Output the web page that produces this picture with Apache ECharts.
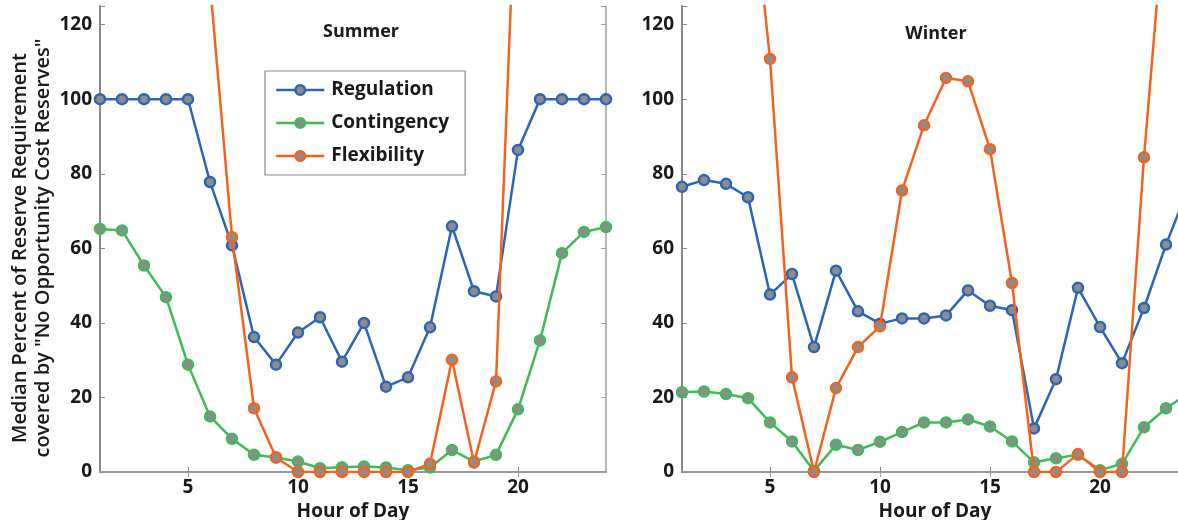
<!DOCTYPE html>
<html>
<head>
<meta charset="utf-8">
<script src="https://cdn.jsdelivr.net/npm/echarts@6/dist/echarts.min.js"></script>
<style>
html,body{margin:0;padding:0;overflow:hidden;background:#fff;width:1178px;height:520px;}
#chart{width:1200px;height:520px;}
</style>
</head>
<body>
<div id="chart"></div>
<script>
const hours = [1,2,3,4,5,6,7,8,9,10,11,12,13,14,15,16,17,18,19,20,21,22,23,24];
const xTicks = [5,10,15,20];
const yTicks = [0,20,40,60,80,100,120];
const seriesNames = ['Regulation','Contingency','Flexibility'];
const panelTitles = ['Summer','Winter'];

const summerRegulation  = [100,100,100,100,100,77.8,60.8,36.2,28.8,37.4,41.5,29.6,40,22.9,25.4,38.8,65.9,48.5,47.1,86.4,100,100,100,100];
const summerContingency = [65.2,64.8,55.4,46.9,28.8,14.9,8.9,4.6,3.9,2.8,1.0,1.3,1.5,1.2,0.5,1.2,5.9,2.8,4.6,16.8,35.3,58.7,64.4,65.7];
const summerFlexibility = [300,250,200,170,150,131,63,17.1,3.9,0,0,0,0,0,0,2.2,30.1,2.5,24.3,175,250,300,300,300];

const winterRegulation  = [76.5,78.3,77.3,73.7,47.6,53.1,33.5,54,43.1,39.8,41.2,41.2,42,48.7,44.6,43.4,11.7,24.9,49.4,38.9,29.2,44,61,76];
const winterContingency = [21.4,21.6,20.9,19.8,13.3,8.2,0.3,7.3,5.9,8.1,10.7,13.3,13.3,14.1,12.2,8.2,2.6,3.7,4.6,0.5,2.2,12,17.1,21];
const winterFlexibility = [250,220,200,167,110.8,25.4,0,22.5,33.5,39.1,75.5,93,105.7,104.8,86.6,50.7,0,0,4.8,0,0,84.4,155,220];

const colors = ['#2a65b8','#3fba57','#f4621f'];
const markerFill = '#8c8c8c';
const FONT = 'Open Sans';
const TEXT = '#1a1a1a';

const panels = [
  {title: panelTitles[0], data: [summerRegulation, summerContingency, summerFlexibility]},
  {title: panelTitles[1], data: [winterRegulation, winterContingency, winterFlexibility]}
];

const gridLefts = [100, 682];
const grids = gridLefts.map(l => ({left: l, top: 6, width: 506, height: 466, containLabel: false, outerBoundsMode: 'none'}));

const xAxes = [], yAxes = [], series = [];
panels.forEach((p, i) => {
  xAxes.push({
    type: 'value', gridIndex: i, min: 1, max: 24, position: 'bottom',
    name: 'Hour of Day', nameLocation: 'middle', nameGap: 28,
    nameTextStyle: {fontFamily: FONT, fontSize: 19, fontWeight: 'bold', color: TEXT},
    axisLine: {lineStyle: {color: '#8a8a8a', width: 2}},
    axisTick: {inside: true, length: 5, customValues: xTicks, lineStyle: {color: '#8a8a8a'}},
    axisLabel: {customValues: xTicks, margin: 6, fontFamily: FONT, fontSize: 19, fontWeight: 'bold', color: TEXT},
    splitLine: {show: false}
  });
  xAxes.push({
    type: 'value', gridIndex: i, min: 1, max: 24, position: 'top',
    axisLine: {lineStyle: {color: '#a0a0a0', width: 1.5}},
    axisTick: {inside: true, length: 5, customValues: xTicks, lineStyle: {color: '#a0a0a0'}},
    axisLabel: {show: false},
    splitLine: {show: false}
  });
  yAxes.push({
    type: 'value', gridIndex: i, min: 0, max: 125, interval: 20, position: 'left',
    axisLine: {show: true, lineStyle: {color: '#8a8a8a', width: 2}},
    axisTick: {show: true, inside: true, length: 5, lineStyle: {color: '#8a8a8a'}},
    axisLabel: {margin: 8, fontFamily: FONT, fontSize: 19, fontWeight: 'bold', color: TEXT,
      formatter: v => yTicks.indexOf(v) >= 0 ? String(v) : ''},
    splitLine: {show: false}
  });
  yAxes.push({
    type: 'value', gridIndex: i, min: 0, max: 125, interval: 20, position: 'right',
    axisLine: {show: true, lineStyle: {color: '#a0a0a0', width: 1.5}},
    axisTick: {show: true, inside: true, length: 5, lineStyle: {color: '#a0a0a0'}},
    axisLabel: {show: false},
    splitLine: {show: false}
  });
  p.data.forEach((vals, k) => {
    series.push({
      name: seriesNames[k], type: 'line',
      xAxisIndex: i * 2, yAxisIndex: i * 2,
      data: hours.map((h, j) => [h, vals[j]]),
      symbol: 'circle', symbolSize: 10, clip: true,
      lineStyle: {color: colors[k], width: 2.5},
      itemStyle: {color: markerFill, borderColor: colors[k], borderWidth: 2.5},
      emphasis: {disabled: true},
      z: 2 + (k === 2 ? 1 : 0)
    });
  });
});

const chart = echarts.init(document.getElementById('chart'), null, {renderer: 'canvas'});
chart.setOption({
  animation: false,
  backgroundColor: '#fff',
  grid: grids,
  xAxis: xAxes,
  yAxis: yAxes,
  title: [
    {text: panelTitles[0], left: 356, top: 18, textAlign: 'center',
     textStyle: {fontFamily: FONT, fontSize: 18, fontWeight: 'bold', color: TEXT}},
    {text: panelTitles[1], left: 931, top: 20, textAlign: 'center',
     textStyle: {fontFamily: FONT, fontSize: 18, fontWeight: 'bold', color: TEXT}}
  ],
  legend: {
    data: seriesNames, orient: 'vertical', left: 265, top: 71,
    backgroundColor: '#fff', borderColor: '#8a8a8a', borderWidth: 1.2,
    padding: [7, 16, 7, 10], itemGap: 9, itemWidth: 48, itemHeight: 12,
    lineStyle: {width: 2.5},
    itemStyle: {borderWidth: 2.5},
    textStyle: {fontFamily: FONT, fontSize: 19, fontWeight: 'bold', color: TEXT, lineHeight: 24, padding: [0,0,0,2]},
    selectedMode: false
  },
  graphic: [
    {type: 'text', x: 20, y: 248, rotation: Math.PI / 2,
     style: {text: 'Median Percent of Reserve Requirement', fontFamily: FONT, fontSize: 20, fontWeight: 600,
       fill: TEXT, align: 'center', verticalAlign: 'middle'}},
    {type: 'text', x: 43, y: 248, rotation: Math.PI / 2,
     style: {text: 'covered by "No Opportunity Cost Reserves"', fontFamily: FONT, fontSize: 20, fontWeight: 600,
       fill: TEXT, align: 'center', verticalAlign: 'middle'}}
  ],
  series: series
});
</script>
</body>
</html>
